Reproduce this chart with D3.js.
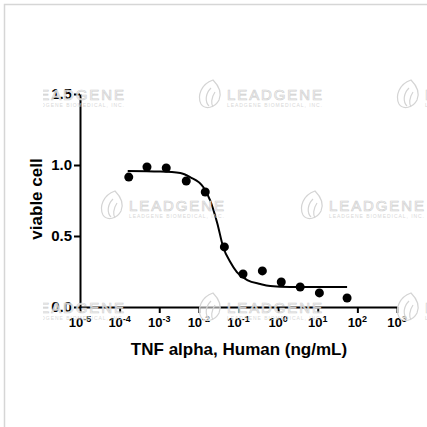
<!DOCTYPE html>
<html>
<head>
<meta charset="utf-8">
<script src="https://cdn.jsdelivr.net/npm/d3@7"></script>
<style>
  body { margin: 0; background: #fff; }
  svg { font-family: "Liberation Sans", Arial, sans-serif; }
</style>
</head>
<body>
<svg width="427" height="427"></svg>
<script>
var width = 427
var height = 427

// measured points (ng/mL, viable fraction)
var conc = [0.00017, 0.00049, 0.0015, 0.0048, 0.0145, 0.044, 0.13, 0.40, 1.2, 3.6, 11, 55]
var viability = [0.915, 0.986, 0.979, 0.887, 0.81, 0.423, 0.232, 0.254, 0.176, 0.141, 0.099, 0.063]

// fitted curve
var fitConc = [0.00016, 0.00105, 0.0034, 0.006, 0.0129, 0.019, 0.029, 0.041, 0.062, 0.091, 0.166, 0.355, 0.63, 2.0, 55]
var fitViab = [0.958, 0.954, 0.944, 0.915, 0.845, 0.754, 0.592, 0.423, 0.317, 0.246, 0.19, 0.162, 0.148, 0.141, 0.141]

var xTickExp = [-5, -4, -3, -2, -1, 0, 1, 2, 3]
var yTicks = [0, 0.5, 1.0, 1.5]

var xScale = d3.scaleLog()
    .domain([1e-5, 1e3])
    .range([80, 397])

var yScale = d3.scaleLinear()
    .domain([0, 1.5])
    .range([307, 94])

var svg = d3.select("svg")

// frame
svg.append("rect")
    .attr("x", 4.5).attr("y", 4.5)
    .attr("width", 440).attr("height", 440)
    .attr("fill", "none")
    .attr("stroke", "#d6d6d6")
    .attr("stroke-width", 1.5)

var yAxis = d3.axisLeft(yScale)
    .tickValues(yTicks)
    .tickFormat(d3.format(".1f"))
    .tickSize(6)
    .tickSizeOuter(0)
    .tickPadding(2)

var xAxis = d3.axisBottom(xScale)
    .tickValues(xTickExp.map(e => Math.pow(10, e)))
    .tickFormat("")
    .tickSize(6)
    .tickSizeOuter(0)

var gx = svg.append("g")
    .attr("transform", "translate(0, 307)")
    .call(xAxis)

var gy = svg.append("g")
    .attr("transform", "translate(80, 0)")
    .call(yAxis)

svg.selectAll(".domain, .tick line")
    .attr("stroke", "#000")
    .attr("stroke-width", 2)

gy.selectAll(".tick text")
    .attr("font-size", 15)
    .attr("font-weight", "bold")
    .attr("fill", "#000")
    .attr("font-family", "Liberation Sans, Arial, sans-serif")

// x labels as 10^n
var xl = svg.append("g")
    .selectAll("text")
    .data(xTickExp)
    .enter()
    .append("text")
    .attr("x", d => xScale(Math.pow(10, d)))
    .attr("y", 327)
    .attr("text-anchor", "middle")
    .attr("font-size", 13)
    .attr("font-weight", "bold")
xl.append("tspan").text("10")
xl.append("tspan")
    .attr("dy", -5)
    .attr("font-size", 9)
    .text(d => d < 0 ? "-" + (-d) : String(d))

// fitted line
var line = d3.line()
    .x((d, i) => xScale(fitConc[i]))
    .y(d => yScale(d))
    .curve(d3.curveMonotoneX)

svg.append("path")
    .datum(fitViab)
    .attr("d", line)
    .attr("fill", "none")
    .attr("stroke", "#000")
    .attr("stroke-width", 2)

svg.append("g")
    .selectAll("circle")
    .data(viability)
    .enter()
    .append("circle")
    .attr("cx", (d, i) => xScale(conc[i]))
    .attr("cy", d => yScale(d))
    .attr("r", 4.5)
    .attr("fill", "#000")

// axis titles
svg.append("text")
    .attr("x", 239)
    .attr("y", 355)
    .attr("text-anchor", "middle")
    .attr("font-size", 17)
    .attr("font-weight", "bold")
    .text("TNF alpha, Human (ng/mL)")

svg.append("text")
    .attr("transform", "rotate(-90)")
    .attr("x", -199)
    .attr("y", 42)
    .attr("text-anchor", "middle")
    .attr("font-size", 17)
    .attr("font-weight", "bold")
    .text("viable cell")

// watermark
var marks = [[-1, 94], [197, 94], [395, 94], [99, 205], [299, 205], [-1, 307], [197, 307], [395, 307]]

svg.append("clipPath").attr("id", "wmclip")
    .append("rect").attr("x", 43).attr("y", 0).attr("width", 400).attr("height", 427)

var wm = svg.append("g")
    .attr("clip-path", "url(#wmclip)")
    .selectAll("g")
    .data(marks)
    .enter()
    .append("g")
    .attr("transform", d => `translate(${d[0]}, ${d[1]})`)

wm.append("path")
    .attr("d", "M16,-14 C4,-10 0,2 4,10 C8,16 18,14 22,6 C25,-1 22,-8 16,-14 Z M14,-6 C8,0 8,8 12,12 M18,-2 C14,4 14,10 16,13")
    .attr("fill", "#fff")
    .attr("fill-opacity", 0.55)
    .attr("stroke", "#d4d4d4")
    .attr("stroke-width", 1.2)

wm.append("text")
    .attr("x", 30)
    .attr("y", 6)
    .attr("font-size", 15)
    .attr("textLength", 95)
    .attr("fill", "#fff")
    .attr("fill-opacity", 0.7)
    .attr("stroke", "#d0d0d0")
    .attr("stroke-width", 0.7)
    .text("LEADGENE")

wm.append("text")
    .attr("x", 30)
    .attr("y", 13)
    .attr("font-size", 5)
    .attr("textLength", 95)
    .attr("fill", "#d8d8d8")
    .text("LEADGENE BIOMEDICAL, INC.")
</script>
</body>
</html>
